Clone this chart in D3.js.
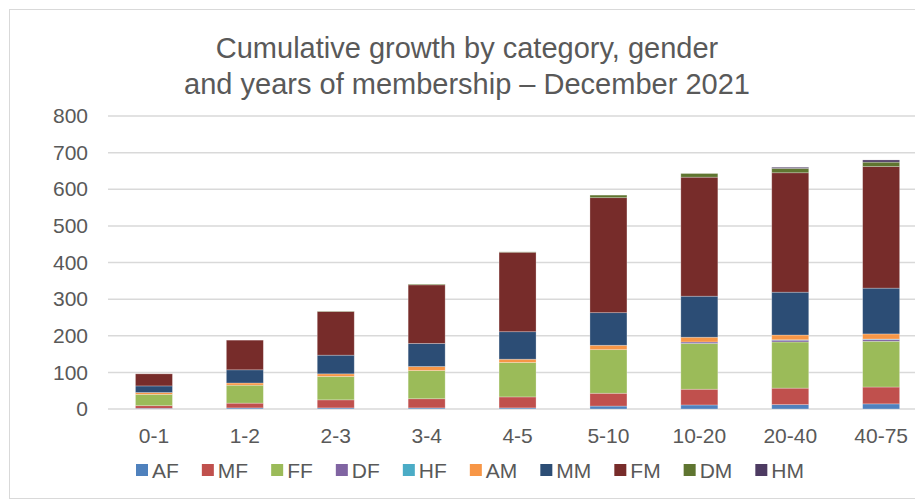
<!DOCTYPE html>
<html>
<head>
<meta charset="utf-8">
<script src="https://cdn.jsdelivr.net/npm/d3@7"></script>
<style>
  body { margin: 0; background: #fff; }
  text { font-family: "Liberation Sans", Arial, sans-serif; fill: #595959; }
</style>
</head>
<body>
<div id="chart"></div>
<script>
// years of membership
const categories = ["0-1", "1-2", "2-3", "3-4", "4-5", "5-10", "10-20", "20-40", "40-75"];
const seriesNames = ["AF", "MF", "FF", "DF", "HF", "AM", "MM", "FM", "DM", "HM"];
const AF = [2, 3, 3, 3, 3, 8, 11, 12, 14];
const MF = [7, 13, 22, 25, 30, 35, 43, 45, 46];
const FF = [31, 49, 64, 77, 94, 119, 125, 126, 125];
const DF = [0, 0, 0, 0, 0, 0, 4, 5, 5];
const HF = [0, 0, 0, 0, 0, 0, 0, 1, 1];
const AM = [5, 6, 7, 11, 9, 12, 13, 13, 14];
const MM = [18, 36, 51, 63, 75, 89, 112, 117, 125];
const FM = [33, 81, 119, 160, 217, 314, 325, 326, 332];
const DM = [0, 0, 1, 2, 1, 7, 10, 12, 12];
const HM = [0, 0, 0, 0, 0, 0, 0, 3, 6];
const yTicks = [0, 100, 200, 300, 400, 500, 600, 700, 800];
const titleLines = ["Cumulative growth by category, gender", "and years of membership \u2013 December 2021"];

const colors = ["#4F81BD", "#C0504D", "#9BBB59", "#8064A2", "#4BACC6", "#F79646", "#2C4D75", "#772C2A", "#5F7530", "#4D3B62"];

const values = { AF, MF, FF, DF, HF, AM, MM, FM, DM, HM };
const rows = categories.map((c, i) => {
  const r = { cat: c };
  seriesNames.forEach(s => r[s] = values[s][i]);
  return r;
});

const width = 915, height = 502;
const svg = d3.select("#chart").append("svg")
  .attr("width", width).attr("height", height);

// chart border
svg.append("rect")
  .attr("x", 9.5).attr("y", 9.5)
  .attr("width", 940).attr("height", 489)
  .attr("fill", "none").attr("stroke", "#D9D9D9").attr("stroke-width", 1);

// title
svg.append("text")
  .attr("text-anchor", "middle")
  .style("font-size", "29px")
  .selectAll("tspan")
  .data(titleLines)
  .enter().append("tspan")
  .attr("x", 467)
  .attr("y", (d, i) => 58 + i * 36)
  .text(d => d);

const x = d3.scaleBand()
  .domain(categories)
  .range([108.5, 926.6])
  .paddingInner(0.593)
  .paddingOuter(0.2965);

const y = d3.scaleLinear().domain([0, 800]).range([409, 116]);

// gridlines
svg.append("g")
  .selectAll("line")
  .data(yTicks)
  .enter().append("line")
  .attr("x1", 108).attr("x2", 930)
  .attr("y1", d => y(d)).attr("y2", d => y(d))
  .attr("stroke", "#D9D9D9").attr("stroke-width", 1.5);

// y axis labels
const yAxis = svg.append("g")
  .attr("transform", "translate(96,0)")
  .call(d3.axisLeft(y).tickValues(yTicks).tickSize(0).tickPadding(8));
yAxis.select(".domain").remove();
yAxis.selectAll("text").style("font-size", "21px").attr("fill", "#595959")
  .style("font-family", "Liberation Sans, Arial, sans-serif");

// stacked bars
const stack = d3.stack().keys(seriesNames)(rows);
svg.append("g")
  .selectAll("g")
  .data(stack)
  .enter().append("g")
  .attr("fill", (d, i) => colors[i])
  .selectAll("rect")
  .data(d => d)
  .enter().append("rect")
  .attr("x", d => x(d.data.cat))
  .attr("width", x.bandwidth())
  .attr("y", d => y(d[1]))
  .attr("height", d => y(d[0]) - y(d[1]))
  .attr("stroke", "#fff").attr("stroke-opacity", 0.35).attr("stroke-width", 0.75);

// x axis labels
const xAxis = svg.append("g")
  .attr("transform", "translate(0,420)")
  .call(d3.axisBottom(x).tickSize(0).tickPadding(8));
xAxis.select(".domain").remove();
xAxis.selectAll("text").style("font-size", "21px").attr("fill", "#595959")
  .style("font-family", "Liberation Sans, Arial, sans-serif");

// legend
const legend = svg.append("g");
const items = legend.selectAll("g")
  .data(seriesNames)
  .enter().append("g");
items.append("rect")
  .attr("width", 12).attr("height", 12)
  .attr("y", 464)
  .attr("fill", (d, i) => colors[i]);
items.append("text")
  .attr("x", 16).attr("y", 478)
  .style("font-size", "21px")
  .text(d => d);
let pos = 0;
items.each(function () {
  const w = d3.select(this).select("text").node().getComputedTextLength();
  d3.select(this).attr("transform", `translate(${pos},0)`);
  pos += 16 + w + 23;
});
const legendWidth = pos - 23;
legend.attr("transform", `translate(${470 - legendWidth / 2},0)`);
</script>
</body>
</html>
